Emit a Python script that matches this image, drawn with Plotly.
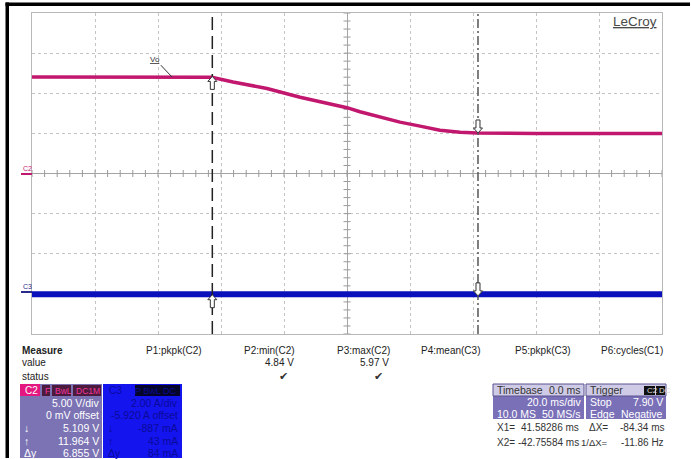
import plotly.graph_objects as go

# ---------------- data ----------------
time_ms = [-100, -80, -60, -42.9, -36.2, -25.4, -14.9, -4.4, 0, 4.1, 10.5, 16.8, 23.2, 26.3, 29.5, 35.9, 41.3, 60, 80, 100]
c2_volts = [12.02, 12.02, 12.0, 12.0, 11.4, 10.6, 9.5, 8.6, 8.2, 7.7, 7.0, 6.4, 5.9, 5.6, 5.4, 5.15, 5.05, 5.0, 5.0, 4.98]
c3_time_ms = [-100, 100]
c3_amps = [-0.1, -0.1]

cursor_x1 = 41.58286
cursor_x2 = -42.75584
trigger_level = 7.90

measure_headers = ["P1:pkpk(C2)", "P2:min(C2)", "P3:max(C2)", "P4:mean(C3)", "P5:pkpk(C3)", "P6:cycles(C1)"]
measure_values = ["", "4.84 V", "5.97 V", "", "", ""]
measure_status = ["", "✔", "✔", "", "", ""]

c2_rows = [("", "5.00 V/div"), ("", "0 mV offset"), ("↓", "5.109 V"), ("↑", "11.964 V"), ("Δy", "6.855 V")]
c3_rows = [("", "2.00 A/div"), ("", "-5.920 A offset"), ("↓", "-887 mA"), ("↑", "43 mA"), ("Δy", "84 mA")]

# ---------------- helpers ----------------
W, H = 691, 459
L, R, T, B = 32, 662, 13, 334
def X(px): return (px - L) / (R - L)
def Y(py): return (B - py) / (B - T)

FONT = "Liberation Sans, Arial, sans-serif"
MAG = "#c2176e"
BLUE = "#0a10bc"

fig = go.Figure()

# graticule ticks on center lines
hx = [-100 + 4 * i for i in range(51)]
fig.add_trace(go.Scatter(x=hx, y=[0] * len(hx), mode="markers", hoverinfo="skip", showlegend=False,
                         marker=dict(symbol="line-ns", size=5, line=dict(width=1, color="#9a9a9a"))))
vy = [-20 + 1 * i for i in range(41)]
fig.add_trace(go.Scatter(x=[0] * len(vy), y=vy, mode="markers", hoverinfo="skip", showlegend=False,
                         marker=dict(symbol="line-ew", size=5, line=dict(width=1, color="#9a9a9a"))))

# traces
fig.add_trace(go.Scatter(x=time_ms, y=c2_volts, mode="lines", line=dict(color=MAG, width=3.5),
                         showlegend=False, hoverinfo="skip"))
fig.add_trace(go.Scatter(x=c3_time_ms, y=c3_amps, mode="lines", line=dict(color=BLUE, width=6),
                         yaxis="y2", showlegend=False, hoverinfo="skip"))

# trigger markers
fig.add_trace(go.Scatter(x=[101.2], y=[trigger_level], mode="markers", cliponaxis=False, showlegend=False,
                         marker=dict(symbol="triangle-left", size=7, color="#d0207e"), hoverinfo="skip"))
fig.add_trace(go.Scatter(x=[0], y=[-20.55], mode="markers", cliponaxis=False, showlegend=False,
                         marker=dict(symbol="triangle-up", size=7, color="#d0207e"), hoverinfo="skip"))

shapes = []
# cursors
shapes.append(dict(type="line", xref="x", yref="paper", x0=cursor_x2, x1=cursor_x2, y0=0, y1=1,
                   line=dict(color="#222222", width=1.5, dash="13px,6px")))
shapes.append(dict(type="line", xref="x", yref="paper", x0=cursor_x1, x1=cursor_x1, y0=0, y1=1,
                   line=dict(color="#555555", width=1.5, dash="9px,3px,2px,3px")))

# cursor arrow markers (block arrows, pixel-sized, anchored at the trace)
UP = "M0,0 L-4.5,-5 L-2,-5 L-2,-13 L2,-13 L2,-5 L4.5,-5 Z"
DN = "M0,0 L-4.5,5 L-2,5 L-2,13 L2,13 L2,5 L4.5,5 Z"
for xv, yv, p in [(cursor_x2, 12.1, UP), (cursor_x2, -15.1, UP),
                  (cursor_x1, 5.05, DN), (cursor_x1, -15.25, DN)]:
    shapes.append(dict(type="path", xref="x", yref="y", xsizemode="pixel", ysizemode="pixel",
                       xanchor=xv, yanchor=yv, path=p, fillcolor="white",
                       line=dict(color="#333333", width=1), layer="above"))

# channel markers
shapes.append(dict(type="line", xref="paper", yref="paper", x0=X(21), x1=X(32), y0=Y(174), y1=Y(174),
                   line=dict(color=MAG, width=2)))
shapes.append(dict(type="line", xref="paper", yref="paper", x0=X(21), x1=X(32), y0=Y(292), y1=Y(292),
                   line=dict(color="#2a2a8a", width=2)))

def rect(x0, y0, x1, y1, fill, line=None):
    shapes.append(dict(type="rect", xref="paper", yref="paper", x0=X(x0), x1=X(x1), y0=Y(y1), y1=Y(y0),
                       fillcolor=fill, line=dict(width=1 if line else 0, color=line or fill)))

# screen-border bars
rect(5.5, 2.5, 690, 6, "#000000")
rect(5.5, 2.5, 9, 458, "#000000")

# C2 box
rect(20, 384, 102, 458, "#7b73b4")
rect(20, 384, 40, 396, "#e3177f")
rect(42, 385, 50, 396, "#4c1a3c")
rect(52, 385, 71, 396, "#4c1a3c")
rect(73, 385, 101, 396, "#4c1a3c")
# C3 box
rect(103, 384, 182, 458, "#1414ee")
rect(135, 385, 180, 396, "#05052a")
# Timebase box
rect(493, 384, 584, 419, "#7a70b8")
rect(493, 384, 584, 396, "#cfcbe6", "#5a5290")
# Trigger box
rect(586, 384, 666, 419, "#7a70b8")
rect(586, 384, 666, 396, "#cfcbe6", "#5a5290")
rect(644, 386, 655, 395, "#111111")
rect(656, 386, 665, 395, "#111111")

ann = []
def txt(px, py, s, size=10, color="#222222", anchor="left", bold=False, family=FONT):
    ann.append(dict(xref="paper", yref="paper", x=X(px), y=Y(py), text=("<b>%s</b>" % s) if bold else s,
                    showarrow=False, xanchor=anchor, yanchor="middle",
                    font=dict(size=size, color=color, family=family)))

# LeCroy logo
txt(659, 21, "<u>LeCroy</u>", size=13.5, color="#4a4a4a", anchor="right")
# channel labels
txt(21, 168, "C2", size=7, color=MAG)
txt(21, 286, "C3", size=7, color="#2a2a8a")

# Vo label
ann.append(dict(xref="x", yref="y", x=-55.5, y=12.0, text="<u>Vo</u>", showarrow=True, arrowhead=0,
                arrowwidth=1, arrowcolor="#333333", ax=-17, ay=-18,
                font=dict(size=8, color="#333333", family=FONT)))

# measure table
txt(20, 350, "Measure", size=10, bold=True)
txt(20, 363, "value", size=10)
txt(20, 376, "status", size=10)
col_right = [204, 297, 392, 482, 573, 665]
for cx, h, v, s in zip(col_right, measure_headers, measure_values, measure_status):
    txt(cx, 350, h, size=10, anchor="right")
    if v:
        txt(cx - 1, 363, v, size=10, anchor="right")
    if s:
        txt(cx - 7, 376, s, size=11, color="#333333", anchor="right", family="DejaVu Sans")

# C2 box text
txt(23, 390, "C2", size=10, color="#ffffff")
txt(43, 390.5, "F", size=8.5, color="#f0379e")
txt(53, 390.5, "BwL", size=8.5, color="#f0379e")
txt(74, 390.5, "DC1M", size=8.5, color="#f0379e")
for i, (lbl, val) in enumerate(c2_rows):
    yy = 403 + i * 12.5
    if lbl:
        txt(22, yy, lbl, size=10.5, color="#ffffff")
    txt(101, yy, val, size=10.5, color="#ffffff", anchor="right")

# C3 box text
txt(107, 390, "C3", size=10, color="#0808a0")
txt(179, 390.5, "P BwL DC", size=9, color="#0a0a90", anchor="right")
for i, (lbl, val) in enumerate(c3_rows):
    yy = 403 + i * 12.5
    if lbl:
        txt(106, yy, lbl, size=10.5, color="#0a0a9a")
    txt(180, yy, val, size=10.5, color="#0a0a9a", anchor="right")

# Timebase
txt(495, 390, "Timebase", size=10.5, color="#333333")
txt(583, 390, "0.0 ms", size=10.5, color="#333333", anchor="right")
txt(583, 402, "20.0 ms/div", size=10.5, color="#ffffff", anchor="right")
txt(495, 414, "10.0 MS", size=10.5, color="#ffffff")
txt(583, 414, "50 MS/s", size=10.5, color="#ffffff", anchor="right")
# Trigger
txt(588, 390, "Trigger", size=10.5, color="#333333")
txt(645, 390.5, "C2", size=8, color="#dddddd")
txt(657, 390.5, "DC", size=8, color="#dddddd")
txt(588, 402, "Stop", size=10.5, color="#ffffff")
txt(665, 402, "7.90 V", size=10.5, color="#ffffff", anchor="right")
txt(588, 414, "Edge", size=10.5, color="#ffffff")
txt(665, 414, "Negative", size=10.5, color="#ffffff", anchor="right")
# cursor readouts
txt(495, 427, "X1=", size=10, color="#333333")
txt(581, 427, "%.5f ms" % cursor_x1, size=10, color="#333333", anchor="right")
txt(610, 427, "ΔX=", size=10, color="#333333", anchor="right")
txt(666, 427, "-84.34 ms", size=10, color="#333333", anchor="right")
txt(495, 442, "X2=", size=10, color="#333333")
txt(581, 442, "%.5f ms" % cursor_x2, size=10, color="#333333", anchor="right")
txt(610, 442, "1/ΔX=", size=9.5, color="#333333", anchor="right")
txt(666, 442, "-11.86 Hz", size=10, color="#333333", anchor="right")

fig.update_layout(
    width=W, height=H,
    margin=dict(l=L, r=W - R, t=T, b=H - B),
    paper_bgcolor="white", plot_bgcolor="white",
    showlegend=False,
    xaxis=dict(range=[-100, 100], dtick=20, tick0=-100, showticklabels=False, ticks="",
               showgrid=True, gridcolor="#c4c4c4", griddash="dot", gridwidth=1,
               zeroline=True, zerolinecolor="#a4a4a4", zerolinewidth=1,
               showline=True, linecolor="#b8b8b8", linewidth=1, mirror=True, fixedrange=True),
    yaxis=dict(range=[-20, 20], dtick=5, tick0=-20, showticklabels=False, ticks="",
               showgrid=True, gridcolor="#c4c4c4", griddash="dot", gridwidth=1,
               zeroline=True, zerolinecolor="#a4a4a4", zerolinewidth=1,
               showline=True, linecolor="#b8b8b8", linewidth=1, mirror=True, fixedrange=True),
    yaxis2=dict(range=[-2.08, 13.92], overlaying="y", showticklabels=False, showgrid=False,
                zeroline=False, ticks="", fixedrange=True),
    shapes=shapes,
    annotations=ann,
)

fig.write_html("out.html", config={"displayModeBar": False},
               post_script="document.body.style.margin='0';document.body.style.overflow='hidden';")
